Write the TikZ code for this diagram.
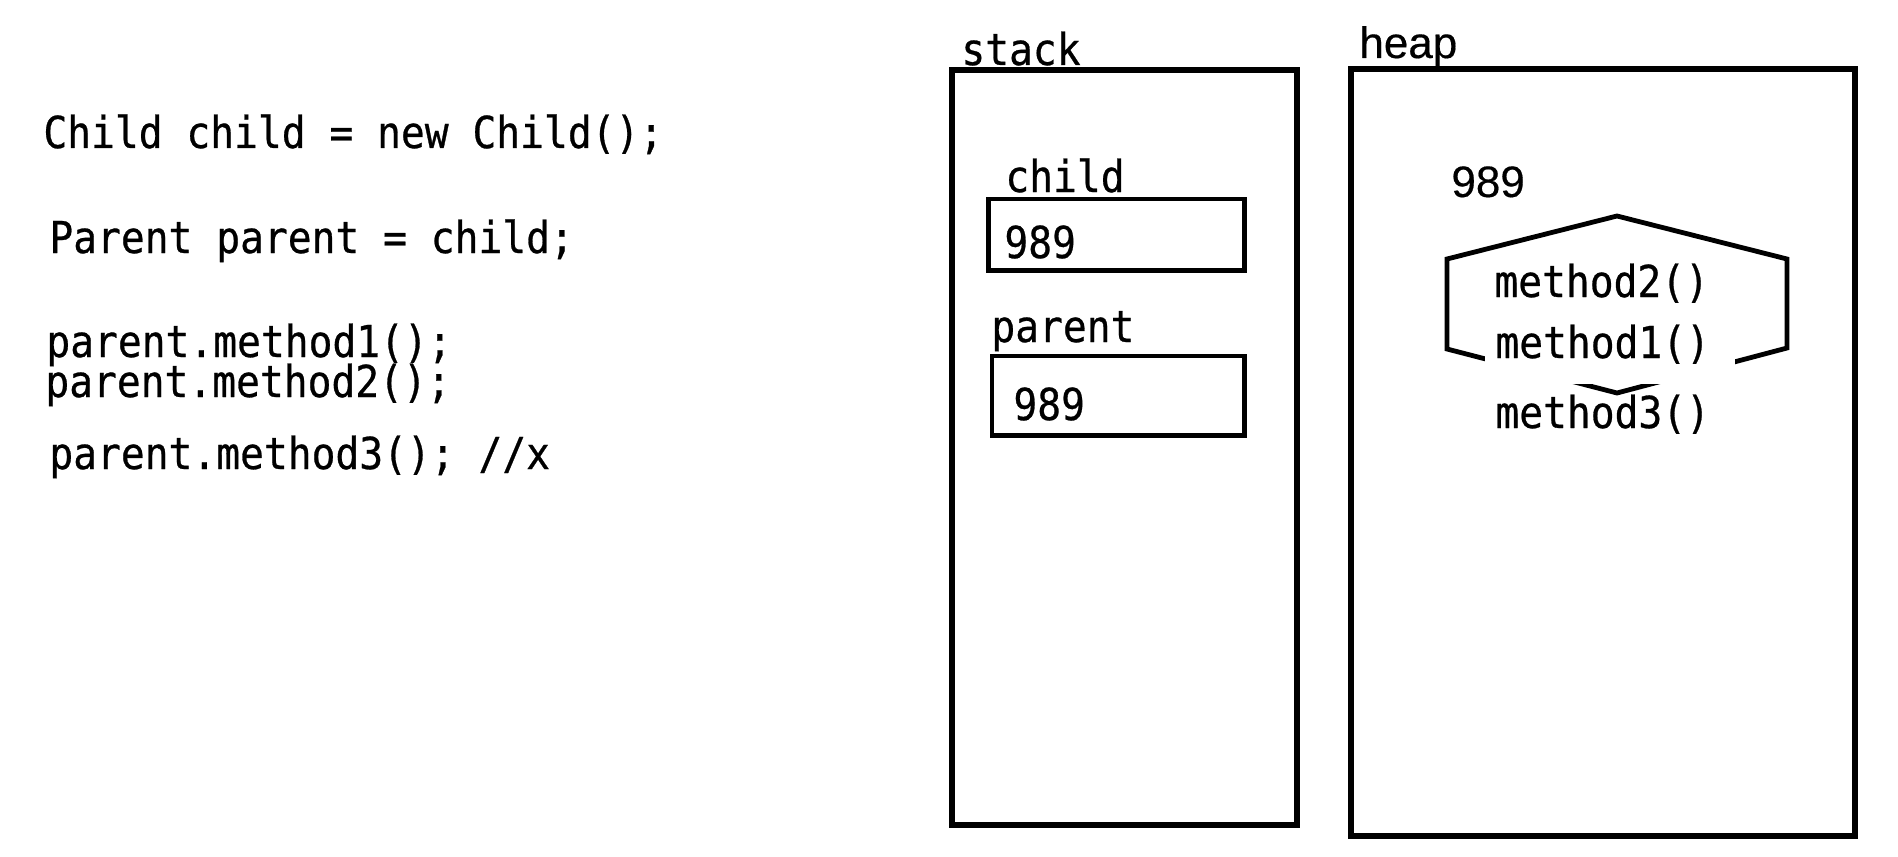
\documentclass[tikz,border=0pt]{standalone}
\usepackage{fontspec}
\setmainfont[FakeBold=0.4]{Liberation Sans}
\newfontfamily\codefont[FakeStretch=0.9,FakeBold=0.6]{DejaVu Sans Mono}
\usepackage{tikz}

\begin{document}
\begin{tikzpicture}[x=0.5pt,y=-0.5pt,line join=miter,
  code/.style={anchor=base west,inner sep=0pt,font=\codefont\fontsize{22}{26}\selectfont},
  plain/.style={anchor=base west,inner sep=0pt,font=\fontsize{22}{26}\selectfont},
  frame/.style={line width=2.7pt},
  cell/.style={line width=2.4pt}]
\useasboundingbox (0,0) rectangle (1898,856);

% source lines
\node[code] (line1) at (43,148) {Child child = new Child();};
\node[code] (line2) at (49,253) {Parent parent = child;};
\node[code] (line3) at (46,357) {parent.method1();};
\node[code] (line4) at (45,397) {parent.method2();};
\node[code] (line5) at (49,469) {parent.method3(); //x};

% stack
\draw[frame] (952,70) rectangle (1297,825);
\node[code] (stack) at (961,65) {stack};
\node[code] (varchild) at (1005,192) {child};
\draw[cell] (988.7,199) rectangle (1244.7,270.7);
\node[code] (refchild) at (1004,258) {989};
\node[code] (varparent) at (991,342) {parent};
\draw[cell] (992,356) rectangle (1244.7,435.3);
\node[code] (refparent) at (1013,420) {989};

% heap
\draw[frame] (1351,69) rectangle (1855,836);
\node[plain] (heap) at (1359,58) {heap};
\node[plain] (addr) at (1451,197) {989};
\draw[cell] (1617,216) -- (1787,259) -- (1787,348) -- (1617,393)
  -- (1447,349) -- (1447,259) -- cycle;
\node[code] (meth2) at (1494,297) {method2()};
\node[code,fill=white,text width=115pt,inner xsep=5pt,text height=15pt,
  text depth=3pt,inner ysep=10pt] (meth1) at (1485,358) {method1()};
\node[code] (meth3) at (1495,428) {method3()};
\end{tikzpicture}
\end{document}
